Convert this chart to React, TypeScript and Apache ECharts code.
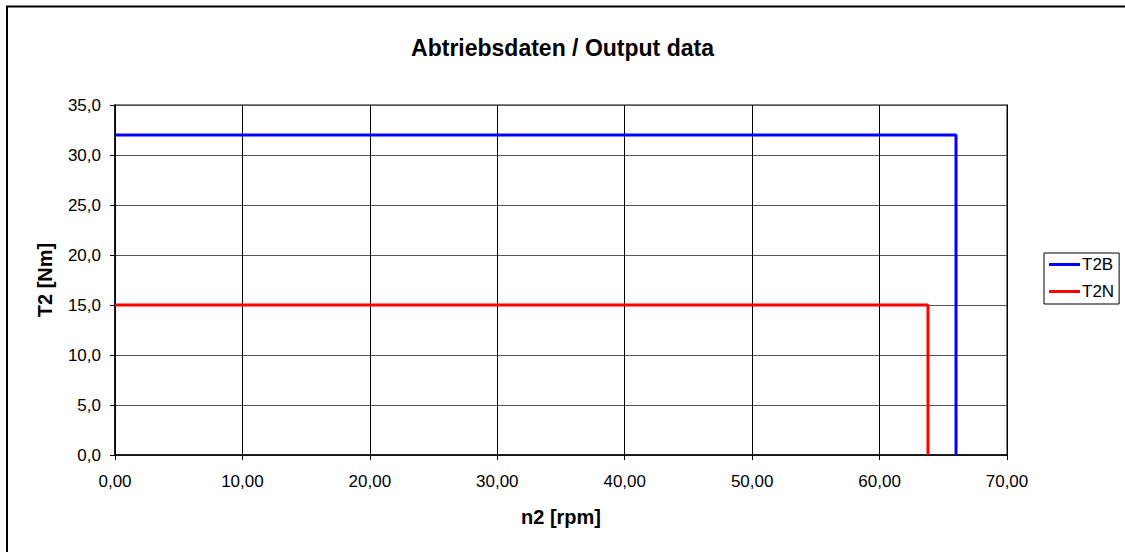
import React, { useEffect, useRef } from "react";
import * as echarts from "echarts";

const seriesNames = ["T2B", "T2N"];
const seriesColors = ["#0000ff", "#ff0000"];
const t2bPoints: [number, number][] = [[0, 32], [66, 32], [66, 0]];
const t2nPoints: [number, number][] = [[0, 15], [63.8, 15], [63.8, 0]];
const titleText = "Abtriebsdaten / Output data";
const xName = "n2 [rpm]";
const yName = "T2 [Nm]";

const FONT = "'Liberation Sans', Arial, sans-serif";

export default function App() {
  const ref = useRef<HTMLDivElement>(null);
  useEffect(() => {
    document.body.style.margin = "0";
    const chart = echarts.init(ref.current!, null, { renderer: "svg" });
    chart.setOption({
      animation: false,
      backgroundColor: "#ffffff",
      textStyle: { fontFamily: FONT },
      title: {
        text: titleText,
        left: "center",
        top: 31,
        textStyle: { fontFamily: FONT, fontSize: 23, fontWeight: "bold", color: "#000" },
      },
      graphic: [
        {
          type: "line",
          shape: { x1: 6, y1: 6.5, x2: 1125, y2: 6.5 },
          style: { stroke: "#000", lineWidth: 2 },
          silent: true,
        },
        {
          type: "line",
          shape: { x1: 7, y1: 6, x2: 7, y2: 552 },
          style: { stroke: "#000", lineWidth: 2 },
          silent: true,
        },
      ],
      legend: {
        orient: "vertical",
        left: 1044,
        top: 253,
        padding: [3, 5, 4, 5],
        icon: "rect",
        itemWidth: 31,
        itemHeight: 3,
        itemGap: 10,
        borderColor: "#000",
        borderWidth: 1,
        textStyle: { fontFamily: FONT, fontSize: 17, color: "#000", padding: [0, 0, 0, -3] },
        data: seriesNames.map((n) => ({ name: n })),
      },
      grid: {
        left: 115,
        right: 118,
        top: 105,
        bottom: 97,
        show: true,
        borderColor: "#808080",
        borderWidth: 2,
      },
      xAxis: {
        type: "value",
        min: 0,
        max: 70,
        interval: 10,
        name: xName,
        nameLocation: "middle",
        nameGap: 52,
        nameTextStyle: { fontFamily: FONT, fontSize: 20, fontWeight: "bold", color: "#000" },
        axisLine: { show: true, lineStyle: { color: "#000", width: 1.5 } },
        axisTick: { show: true, length: 5, lineStyle: { color: "#000" } },
        axisLabel: {
          margin: 18,
          fontFamily: FONT,
          fontSize: 17,
          color: "#000",
          formatter: (v: number) => v.toFixed(2).replace(".", ","),
        },
        splitLine: { show: true, lineStyle: { color: "#000", width: 1 } },
      },
      yAxis: {
        type: "value",
        min: 0,
        max: 35,
        interval: 5,
        name: yName,
        nameLocation: "middle",
        nameGap: 60,
        nameTextStyle: { fontFamily: FONT, fontSize: 20, fontWeight: "bold", color: "#000" },
        axisLine: { show: true, lineStyle: { color: "#000", width: 1.5 } },
        axisTick: { show: true, length: 5, lineStyle: { color: "#000" } },
        axisLabel: {
          margin: 14,
          fontFamily: FONT,
          fontSize: 17,
          color: "#000",
          formatter: (v: number) => v.toFixed(1).replace(".", ","),
        },
        splitLine: { show: true, lineStyle: { color: "#555", width: 1 } },
      },
      series: [
        {
          name: seriesNames[0],
          type: "line",
          data: t2bPoints,
          showSymbol: false,
          symbol: "none",
          color: seriesColors[0],
          lineStyle: { color: seriesColors[0], width: 3 },
        },
        {
          name: seriesNames[1],
          type: "line",
          data: t2nPoints,
          showSymbol: false,
          symbol: "none",
          color: seriesColors[1],
          lineStyle: { color: seriesColors[1], width: 3 },
        },
      ],
    });
    return () => chart.dispose();
  }, []);
  return <div ref={ref} style={{ width: 1125, height: 552 }} />;
}
